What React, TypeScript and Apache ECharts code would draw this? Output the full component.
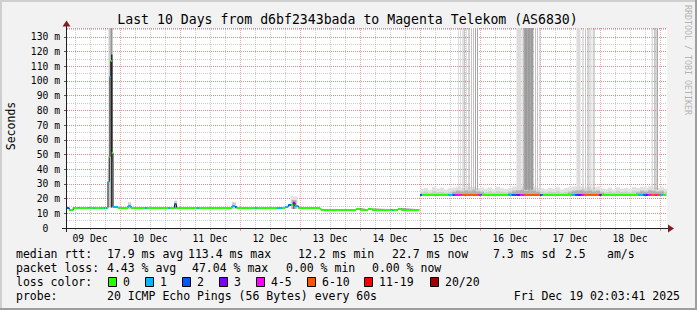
import React, { useEffect, useRef } from 'react';
import * as echarts from 'echarts';

// ---------- data ----------
const TITLE = 'Last 10 Days from d6bf2343bada to Magenta Telekom (AS6830)';
// time axis in hours since 09 Dec 00:00
const X_MIN = 2.8;
const X_MAX = 242.8;
const Y_MAX = 136;
const DAY_LABELS = ['09 Dec', '10 Dec', '11 Dec', '12 Dec', '13 Dec', '14 Dec', '15 Dec', '16 Dec', '17 Dec', '18 Dec'];
const DAY_LABEL_HOURS = [12, 36, 60, 84, 108, 132, 156, 180, 204, 228];
const MIDNIGHT_HOURS = [24, 48, 72, 96, 120, 144, 168, 192, 216, 240];

const LOSS_COLORS = ['#26ff00', '#00b8ff', '#0059ff', '#7e00ff', '#ff00ff', '#ff5500', '#ff0000', '#a00000'];
const LOSS_LABELS = ['0', '1', '2', '3', '4-5', '6-10', '11-19', '20/20'];

// median samples [hour, ms, lossIndex]; each holds until the next sample
const MEDIAN_A: [number, number, number][] = [
  [2.8, 13.6, 2], [3.7, 12.2, 0], [5.3, 13.8, 0], [7.4, 13.8, 1], [7.8, 13.8, 0],
  [11.4, 13.8, 1], [11.8, 13.8, 0], [13.6, 13.8, 1], [14.0, 13.8, 0], [16.4, 13.8, 1],
  [16.8, 13.8, 0], [17.6, 13.8, 1], [18.0, 13.8, 0], [18.4, 13.8, 1], [18.8, 13.8, 0],
  [19.2, 31.5, 1], [19.7, 48.5, 0], [20.0, 103.0, 1], [20.3, 113.4, 0], [20.7, 51.0, 0],
  [21.2, 14.5, 1], [23.2, 13.8, 0], [27.2, 15.0, 1], [28.4, 13.8, 0], [34.0, 13.8, 1],
  [34.8, 13.8, 0], [43.2, 13.8, 1], [44.0, 13.8, 0], [45.8, 16.0, 2], [46.6, 13.8, 0],
  [54.8, 13.8, 1], [55.6, 13.8, 0], [68.8, 15.0, 1], [70.0, 14.5, 2], [70.6, 13.8, 0],
  [78.0, 13.8, 1], [78.8, 13.8, 0], [86.8, 13.8, 1], [88.8, 13.8, 0], [90.0, 14.5, 1],
  [91.3, 15.5, 2], [92.4, 15.5, 0], [93.3, 17.2, 3], [94.0, 15.0, 1], [95.3, 13.8, 0],
  [104.0, 13.2, 0], [104.4, 12.5, 0], [118.4, 12.9, 0], [120.0, 12.5, 0], [123.2, 12.8, 0],
  [124.8, 12.5, 0], [132.6, 12.5, 1], [133.2, 12.5, 0], [135.2, 12.9, 0], [136.4, 12.5, 0],
];
const END_A = 143.7;

const MEDIAN_B: [number, number, number][] = [
  [144.0, 22.7, 2], [144.8, 22.7, 0], [155.2, 22.7, 1], [157.1, 22.7, 2], [158.0, 22.7, 4],
  [160.7, 22.7, 5], [167.3, 22.7, 4], [168.3, 22.7, 2], [168.7, 22.7, 0], [179.3, 22.7, 1],
  [180.7, 22.7, 2], [182.7, 22.7, 3], [184.0, 22.7, 4], [185.7, 22.7, 5], [192.0, 22.7, 2],
  [193.1, 22.7, 0], [204.7, 22.7, 1], [206.0, 22.7, 2], [206.9, 22.7, 3], [208.7, 22.7, 4],
  [209.7, 22.7, 5], [215.7, 22.7, 3], [216.7, 22.7, 0], [231.3, 22.7, 1], [233.3, 22.7, 2],
  [234.4, 22.7, 3], [235.3, 22.7, 4], [236.4, 22.7, 5], [238.0, 22.7, 4], [238.9, 22.7, 5],
  [240.0, 22.7, 1], [241.1, 22.7, 0],
];
const END_B = 242.4;

// smoke spots in the first part [h0, h1, loMs, hiMs, shade]
const SMOKE_A: [number, number, number, number, number][] = [
  [19.0, 19.4, 14.0, 40.0, 1], [19.4, 19.8, 14.0, 150, 1], [19.8, 20.2, 14.0, 150, 2],
  [20.2, 21.0, 14.0, 150, 3], [20.4, 21.0, 14.0, 118, 5], [21.0, 21.4, 14.0, 45, 1],
  [27.2, 28.4, 13.0, 17.5, 1], [45.6, 46.8, 13.0, 18.5, 1], [45.8, 46.4, 13.0, 16.8, 3],
  [68.8, 70.4, 13.0, 17.5, 1], [92.2, 95.0, 13.0, 21.5, 0], [92.6, 94.6, 13.0, 19.0, 2],
  [93.2, 93.8, 13.0, 17.8, 4],
];

// smoke of the second part, one sample every 1.6 h from 144.0 h
const SMOKE_B_START = 144.0;
const SMOKE_B_STEP = 1.6;
const SMOKE_B_LO = 21.8;
const SMOKE_B_HI = [
  26.5, 27.2, 26.0, 27.8, 26.8, 27.5, 26.2, 27.0,
  27.5, 28.2, 27.0, 28.5, 27.8, 28.0, 27.2, 27.6,
  26.8, 27.6, 26.4, 28.0, 27.0, 26.6,
  27.4, 28.2, 27.8, 28.4, 27.6, 28.6, 28.0, 27.4, 27.0,
  26.4, 27.4, 26.8, 27.8, 26.2, 27.2,
  27.6, 28.4, 27.8, 28.2, 27.4, 28.0, 27.6, 28.2, 27.0,
  26.6, 27.4, 26.2, 27.6, 26.8, 27.2, 26.4, 27.8,
  27.2, 28.0, 27.6, 28.4, 27.8, 27.2, 27.8, 26.8,
];
const SMOKE_B_MID = [
  24.2, 24.8, 24.0, 25.0, 24.4, 24.6, 24.1, 24.7,
  25.4, 26.0, 25.6, 26.2, 25.8, 26.4, 25.6, 25.2,
  24.4, 24.9, 24.2, 25.0, 24.6, 24.3,
  25.0, 25.8, 26.2, 26.6, 26.0, 26.4, 26.2, 25.6, 24.8,
  24.2, 24.8, 24.5, 25.0, 24.1, 24.6,
  25.2, 25.9, 26.2, 26.4, 25.8, 26.2, 25.6, 26.0, 25.0,
  24.3, 24.9, 24.2, 25.1, 24.5, 24.8, 24.2, 25.0,
  25.0, 25.8, 25.4, 26.2, 25.8, 25.4, 25.6, 24.6,
];
const SMOKE_B_DARK = [
  0, 0, 0, 0, 0, 0, 0, 0,
  24.4, 25.2, 24.8, 25.4, 25.0, 25.6, 24.8, 24.2,
  0, 0, 0, 0, 0, 0,
  24.0, 24.8, 25.4, 25.8, 25.2, 25.6, 25.4, 24.6, 0,
  0, 0, 0, 0, 0, 0,
  24.2, 25.0, 25.4, 25.6, 25.0, 25.4, 24.8, 25.2, 24.0,
  0, 0, 0, 0, 0, 0, 0, 0,
  24.2, 25.0, 24.6, 25.4, 25.0, 24.6, 24.8, 0,
];

// pings far above the scale [h0, h1, shade]
const SPIKE_LO = 26;
const SPIKE_HI = 400;
const TALL_SPIKES: [number, number, number][] = [
  [159.2, 159.6, 0], [160.0, 160.4, 0], [161.0, 161.4, 1], [161.6, 162.0, 1], [162.4, 162.8, 0],
  [163.4, 163.8, 2], [164.4, 164.8, 1], [165.2, 165.6, 1], [166.0, 166.4, 2], [166.8, 167.2, 2],
  [182.6, 184.6, 0], [185.0, 185.4, 1], [185.4, 189.4, 2], [186.2, 186.6, 3], [187.4, 187.8, 3],
  [188.6, 189.0, 3], [190.0, 190.4, 1], [190.8, 191.2, 1], [191.8, 192.2, 1],
  [206.6, 208.2, 0], [209.0, 209.4, 1], [210.0, 210.4, 1], [211.0, 211.4, 2], [211.8, 212.2, 1],
  [212.6, 213.0, 0], [213.4, 213.8, 2],
  [236.6, 237.2, 0], [237.6, 238.0, 1], [238.2, 238.6, 2], [238.8, 239.2, 2],
];

const RTT_VALUES = [17.9, 113.4, 12.2, 22.7, 7.3];
const RTT_NAMES = ['avg', 'max', 'min', 'now', 'sd'];
const AMS_VALUE = 2.5;
const LOSS_VALUES = [4.43, 47.04, 0.0, 0.0];
const LOSS_NAMES = ['avg', 'max', 'min', 'now'];
const PROBE_TEXT = '20 ICMP Echo Pings (56 Bytes) every 60s';
const DATE_TEXT = 'Fri Dec 19 02:03:41 2025';

// ---------- style / layout ----------
const MONO = "'DejaVu Sans Mono', monospace";
const SMOKE_SHADES = ['#e2e2e2', '#cdcdcd', '#b0b0b0', '#959595', '#6e6e6e', '#2e2e2e'];
const SPIKE_SHADES = ['#dcdcdc', '#c4c4c4', '#a8a8a8', '#909090'];
const RTT_X = [107, 188, 298, 392, 493];
const LOSS_X = [107, 192, 286, 372];
const BOX_X = [108, 145, 182, 219, 256, 307, 364, 430];
const ROW_Y = [254, 268, 282, 296];
const LEG_FONT = 11.5;

export default function App() {
  const ref = useRef<HTMLDivElement>(null);
  useEffect(() => {
    if (!ref.current) return;
    const chart = echarts.init(ref.current, null, { renderer: 'svg' });

    const minorHours: number[] = [];
    for (let d = 0; d <= 10; d++) {
      [6, 12, 18].forEach((q) => {
        const h = d * 24 + q;
        if (h > X_MIN && h < X_MAX) minorHours.push(h);
      });
    }

    const smokeItems: number[][] = [];
    SMOKE_A.forEach((s) => smokeItems.push([...s]));
    SMOKE_B_HI.forEach((hi, i) => {
      const h0 = SMOKE_B_START + i * SMOKE_B_STEP;
      const h1 = h0 + SMOKE_B_STEP;
      smokeItems.push([h0, h1, SMOKE_B_LO, hi, 0]);
      smokeItems.push([h0, h1, SMOKE_B_LO, SMOKE_B_MID[i], 1]);
      if (SMOKE_B_DARK[i] > SMOKE_B_LO) smokeItems.push([h0, h1, SMOKE_B_LO, SMOKE_B_DARK[i], 2]);
    });
    const spikeItems = TALL_SPIKES.map(([a, b, s]) => [a, b, SPIKE_LO, SPIKE_HI, s]);

    const linePts: any[] = [];
    const bandItems: number[][] = [];
    [
      { samples: MEDIAN_A, end: END_A },
      { samples: MEDIAN_B, end: END_B },
    ].forEach(({ samples, end }) => {
      samples.forEach(([h, ms, loss], i) => {
        linePts.push([h, ms]);
        const next = i < samples.length - 1 ? samples[i + 1][0] : end;
        bandItems.push([h, next, ms, loss]);
      });
      linePts.push([end, samples[samples.length - 1][1]]);
      linePts.push([end + 0.05, '-']);
    });

    const clipTo = (params: any, r: any) =>
      echarts.graphic.clipRectByRect(r, {
        x: params.coordSys.x,
        y: params.coordSys.y,
        width: params.coordSys.width,
        height: params.coordSys.height,
      });

    const smokeRender = (palette: string[]) => (params: any, api: any) => {
      const p0 = api.coord([api.value(0), api.value(3)]);
      const p1 = api.coord([api.value(1), api.value(2)]);
      const r = clipTo(params, { x: p0[0], y: p0[1], width: p1[0] - p0[0], height: p1[1] - p0[1] });
      if (!r) return null;
      return { type: 'rect', shape: r, style: { fill: palette[api.value(4)] } };
    };

    const txt = (x: number, y: number, text: string, extra: any = {}) => ({
      type: 'text',
      x,
      y,
      z: 100,
      silent: true,
      style: {
        text,
        fill: '#000',
        font: `${LEG_FONT}px ${MONO}`,
        align: 'left',
        verticalAlign: 'middle',
        textAlign: 'left',
        textVerticalAlign: 'middle',
        ...extra,
      },
    });

    const graphics: any[] = [
      // frame shading
      { type: 'rect', z: 100, shape: { x: 0, y: 0, width: 697, height: 2 }, style: { fill: '#cfcfcf' } },
      { type: 'rect', z: 100, shape: { x: 0, y: 0, width: 2, height: 310 }, style: { fill: '#cfcfcf' } },
      { type: 'rect', z: 100, shape: { x: 0, y: 308, width: 697, height: 2 }, style: { fill: '#9e9e9e' } },
      { type: 'rect', z: 100, shape: { x: 695, y: 0, width: 2, height: 310 }, style: { fill: '#9e9e9e' } },
      // axes
      { type: 'line', z: 100, shape: { x1: 62, y1: 228.5, x2: 669, y2: 228.5 }, style: { stroke: '#1f1f1f', lineWidth: 1 } },
      { type: 'polygon', z: 100, shape: { points: [[668, 224.5], [674, 228.5], [668, 232.5]] }, style: { fill: '#801f1f' } },
      { type: 'line', z: 100, shape: { x1: 66.5, y1: 232, x2: 66.5, y2: 26 }, style: { stroke: '#1f1f1f', lineWidth: 1 } },
      { type: 'polygon', z: 100, shape: { points: [[62.5, 26.5], [66.5, 20.5], [70.5, 26.5]] }, style: { fill: '#801f1f' } },
      // title and side texts
      txt(347.5, 19, TITLE, { font: `13.2px ${MONO}`, align: 'center', textAlign: 'center' }),
      {
        type: 'text', z: 100, x: 11, y: 126, rotation: Math.PI / 2,
        style: { text: 'Seconds', fill: '#000', font: `${LEG_FONT}px ${MONO}`, align: 'center', verticalAlign: 'middle', textAlign: 'center', textVerticalAlign: 'middle' },
      },
      {
        type: 'text', z: 100, x: 687.5, y: 60, rotation: -Math.PI / 2,
        style: { text: 'RRDTOOL / TOBI OETIKER', fill: '#b4b4b4', font: `8.3px ${MONO}`, align: 'center', verticalAlign: 'middle', textAlign: 'center', textVerticalAlign: 'middle' },
      },
      // legend
      txt(16, ROW_Y[0], 'median rtt:'),
      ...RTT_VALUES.map((v, i) => txt(RTT_X[i], ROW_Y[0], `${v.toFixed(1)} ms ${RTT_NAMES[i]}`)),
      txt(565, ROW_Y[0], AMS_VALUE.toFixed(1)),
      txt(607, ROW_Y[0], 'am/s'),
      txt(16, ROW_Y[1], 'packet loss:'),
      ...LOSS_VALUES.map((v, i) => txt(LOSS_X[i], ROW_Y[1], `${v.toFixed(2)} % ${LOSS_NAMES[i]}`)),
      txt(16, ROW_Y[2], 'loss color:'),
      ...LOSS_COLORS.map((c, i) => ({
        type: 'rect', z: 100,
        shape: { x: BOX_X[i] + 0.5, y: ROW_Y[2] - 4.5, width: 8, height: 9 },
        style: { fill: c, stroke: '#000', lineWidth: 1 },
      })),
      ...LOSS_LABELS.map((l, i) => txt(BOX_X[i] + 15, ROW_Y[2], l)),
      txt(16, ROW_Y[3], 'probe:'),
      txt(107, ROW_Y[3], PROBE_TEXT),
      txt(680, ROW_Y[3], DATE_TEXT, { align: 'right', textAlign: 'right' }),
    ];

    const option: any = {
      animation: false,
      backgroundColor: '#f2f2f2',
      grid: { left: 67, top: 28, width: 600, height: 200, show: true, backgroundColor: '#ffffff', borderWidth: 0 },
      xAxis: [
        {
          type: 'value', min: X_MIN, max: X_MAX, position: 'bottom',
          axisLine: { show: false },
          axisTick: { show: true, length: 3, customValues: MIDNIGHT_HOURS, lineStyle: { color: 'rgba(222,79,79,0.6)' } },
          axisLabel: {
            show: true, customValues: DAY_LABEL_HOURS, margin: 5,
            formatter: (v: number) => DAY_LABELS[DAY_LABEL_HOURS.indexOf(v)] ?? '',
            fontFamily: MONO, fontSize: 9.7, color: '#000',
          },
          splitLine: { show: true, lineStyle: { color: 'rgba(222,79,79,0.5)', type: [1, 1], width: 1 } },
          z: 1,
        },
        {
          type: 'value', min: X_MIN, max: X_MAX, position: 'bottom',
          axisLine: { show: false },
          axisTick: { show: true, length: 2, customValues: minorHours, lineStyle: { color: 'rgba(143,143,143,0.7)' } },
          axisLabel: { show: false },
          splitLine: { show: true, lineStyle: { color: 'rgba(143,143,143,0.45)', type: [1, 1], width: 1 } },
          z: 0,
        },
      ],
      yAxis: [
        {
          type: 'value', min: 0, max: Y_MAX, interval: 10, position: 'left',
          axisLine: { show: false },
          axisTick: { show: true, length: 3, lineStyle: { color: '#555' } },
          axisLabel: {
            margin: 7, showMaxLabel: false, fontFamily: MONO, fontSize: 9.7, color: '#000',
            formatter: (v: number) => (v === 0 ? '0\u00a0\u00a0' : `${v} m`),
          },
          splitLine: { show: true, lineStyle: { color: 'rgba(222,79,79,0.5)', type: [1, 1], width: 1 } },
          z: 1,
        },
        {
          type: 'value', min: 0, max: Y_MAX, interval: 5, position: 'left',
          axisLine: { show: false }, axisTick: { show: false }, axisLabel: { show: false },
          splitLine: { show: true, lineStyle: { color: 'rgba(143,143,143,0.45)', type: [1, 1], width: 1 } },
          z: 0,
        },
      ],
      graphic: graphics,
      series: [
        {
          type: 'custom', name: 'smoke', silent: true, z: 1,
          xAxisIndex: 0, yAxisIndex: 0,
          encode: { x: [0, 1], y: [2, 3] },
          data: smokeItems,
          renderItem: smokeRender(SMOKE_SHADES),
        },
        {
          type: 'custom', name: 'spikes', silent: true, z: 1,
          xAxisIndex: 0, yAxisIndex: 0,
          encode: { x: [0, 1], y: [2, 3] },
          data: spikeItems,
          renderItem: smokeRender(SPIKE_SHADES),
        },
        {
          type: 'line', name: 'median', silent: true, z: 2, step: 'end',
          xAxisIndex: 0, yAxisIndex: 0,
          data: linePts, showSymbol: false, symbol: 'none', connectNulls: false,
          lineStyle: { color: '#202020', width: 1 },
        },
        {
          type: 'custom', name: 'loss', silent: true, z: 3,
          xAxisIndex: 0, yAxisIndex: 0,
          encode: { x: [0, 1], y: 2 },
          data: bandItems,
          renderItem: (params: any, api: any) => {
            const a = api.coord([api.value(0), api.value(2)]);
            const b = api.coord([api.value(1), api.value(2)]);
            const y = Math.round(a[1]) - 1;
            const r = clipTo(params, { x: a[0], y, width: Math.max(b[0] - a[0], 0.6), height: 2 });
            if (!r) return null;
            return { type: 'rect', shape: r, style: { fill: LOSS_COLORS[api.value(3)] } };
          },
        },
      ],
    };
    chart.setOption(option);
    return () => chart.dispose();
  }, []);

  return <div ref={ref} style={{ position: 'absolute', left: 0, top: 0, width: 697, height: 310 }} />;
}
